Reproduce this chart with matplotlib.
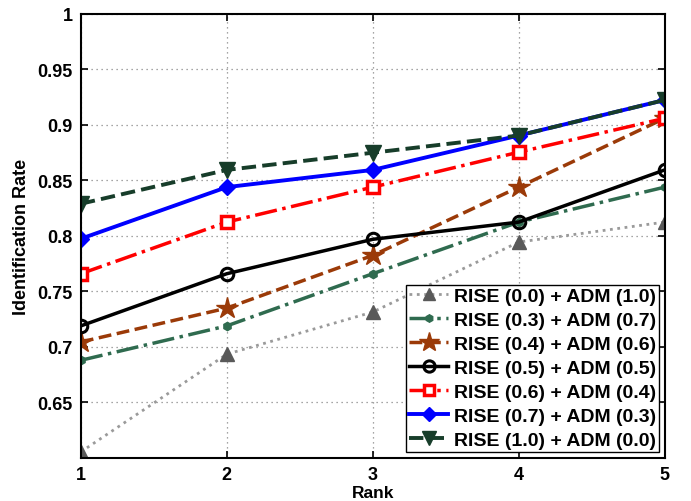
import matplotlib
matplotlib.use('Agg')
import matplotlib.pyplot as plt

plt.rcParams.update({
    'font.family': ['Liberation Sans', 'DejaVu Sans'],
    'font.weight': 'bold',
    'axes.labelweight': 'bold',
})

# -- Data --
RANK = [1, 2, 3, 4, 5]
LABELS = [
    'RISE (0.0) + ADM (1.0)',
    'RISE (0.3) + ADM (0.7)',
    'RISE (0.4) + ADM (0.6)',
    'RISE (0.5) + ADM (0.5)',
    'RISE (0.6) + ADM (0.4)',
    'RISE (0.7) + ADM (0.3)',
    'RISE (1.0) + ADM (0.0)',
]
R00 = [0.6055, 0.6935, 0.7315, 0.7945, 0.8125]
R03 = [0.688, 0.719, 0.766, 0.8125, 0.844]
R04 = [0.7045, 0.735, 0.7825, 0.844, 0.906]
R05 = [0.719, 0.766, 0.797, 0.8125, 0.8595]
R06 = [0.766, 0.8125, 0.844, 0.8755, 0.906]
R07 = [0.7975, 0.844, 0.8595, 0.8905, 0.9225]
R10 = [0.829, 0.8595, 0.875, 0.8905, 0.9225]

fig = plt.figure(figsize=(6.91, 5.02), dpi=100)
ax = fig.add_axes([0.117, 0.0857, 0.845, 0.8845])

# series styles
ax.plot(RANK, R00, color='#9a9a9a', ls=':', lw=2.0, marker='^', ms=10,
        mfc='#595959', mec='#595959', label=LABELS[0])
ax.plot(RANK, R03, color='#2f6b4f', ls='-.', lw=2.5, marker='h', ms=6,
        mfc='#2f6b4f', mec='#2f6b4f', label=LABELS[1])
ax.plot(RANK, R04, color='#9b3a08', ls='--', lw=2.5, marker='*', ms=16,
        mfc='#9b3a08', mec='#9b3a08', label=LABELS[2])
ax.plot(RANK, R05, color='black', ls='-', lw=2.5, marker='o', ms=9,
        mfc='none', mec='black', mew=2.2, label=LABELS[3])
ax.plot(RANK, R06, color='#ff0000', ls='-.', lw=2.5, marker='s', ms=8,
        mfc='white', mec='#ff0000', mew=2.5, label=LABELS[4])
ax.plot(RANK, R07, color='#0000ff', ls='-', lw=2.8, marker='D', ms=8,
        mfc='#0000ff', mec='#0000ff', label=LABELS[5])
ax.plot(RANK, R10, color='#173d2a', ls='--', lw=2.8, marker='v', ms=11,
        mfc='#173d2a', mec='#173d2a', label=LABELS[6])

ax.set_xlim(1, 5)
ax.set_ylim(0.6, 1.0)
ax.set_xticks(RANK)
ax.set_yticks([0.65, 0.7, 0.75, 0.8, 0.85, 0.9, 0.95, 1.0])
ax.set_yticklabels(['0.65', '0.7', '0.75', '0.8', '0.85', '0.9', '0.95', '1'])
ax.tick_params(direction='in', length=5, width=1.2, labelsize=13,
               top=True, right=True, pad=6)
for lab in ax.get_xticklabels() + ax.get_yticklabels():
    lab.set_fontweight('bold')
for sp in ax.spines.values():
    sp.set_linewidth(1.5)
ax.grid(True, linestyle=(0, (1, 3)), color='#888888', lw=0.9)

ax.set_xlabel('Rank', fontsize=12.5, labelpad=1)
ax.set_ylabel('Identification Rate', fontsize=13, labelpad=5)

leg = ax.legend(loc='lower right', fontsize=14, frameon=True, fancybox=False,
                borderaxespad=0.3, handlelength=2.0, handletextpad=0.3,
                labelspacing=0.33, borderpad=0.15, markerscale=0.9)
leg.get_frame().set_edgecolor('black')
leg.get_frame().set_linewidth(1.0)
leg.get_frame().set_alpha(1.0)
for t in leg.get_texts():
    t.set_fontweight('bold')

fig.savefig('out.png', dpi=100)
